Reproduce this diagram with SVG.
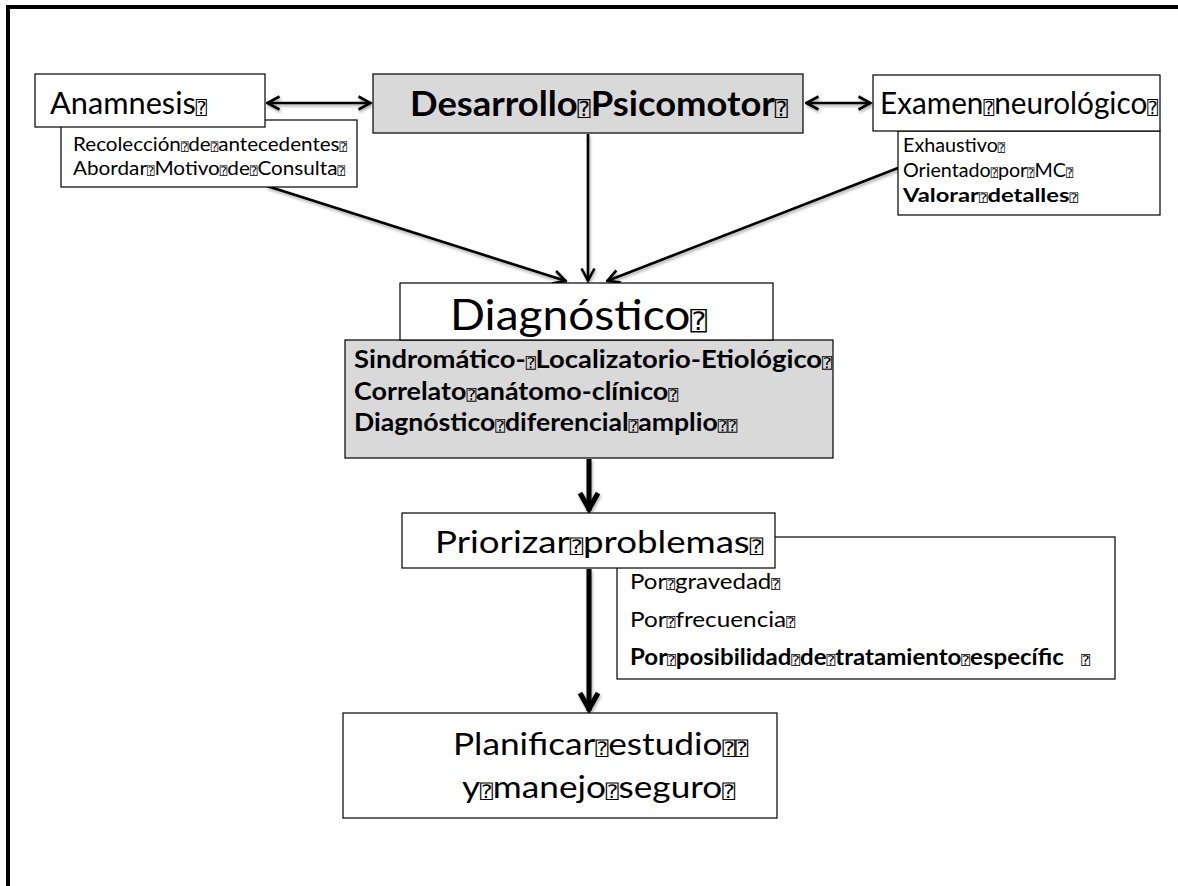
<svg xmlns="http://www.w3.org/2000/svg" width="1178" height="886" viewBox="0 0 1178 886">
<style>
.box{fill:#fff;stroke:#000;stroke-width:1.2}
.gray{fill:#d9d9d9;stroke:#000;stroke-width:1.2}
text{font-family:Lato,"Open Sans","Liberation Sans",sans-serif;fill:#000}
.b{font-weight:bold}
.q{font-family:"DejaVu Sans Mono","DejaVu Sans",monospace;font-size:0.6em;font-weight:normal}
.c{stroke:#000;fill:none;stroke-width:2.6}
.ct{stroke:#000;fill:none;stroke-width:5}
</style>
<defs>
<filter id="sh" x="-20%" y="-20%" width="140%" height="140%">
<feDropShadow dx="1" dy="2" stdDeviation="1.5" flood-color="#000" flood-opacity="0.35"/>
</filter>
<marker id="a" viewBox="0 0 16 16" refX="14.5" refY="8" markerWidth="16" markerHeight="16" markerUnits="userSpaceOnUse" orient="auto-start-reverse">
<path d="M2,1.5 L14,8 L2,14.5" fill="none" stroke="#000" stroke-width="2.6"/>
</marker>
<marker id="at" viewBox="0 0 24 24" refX="21" refY="12" markerWidth="24" markerHeight="24" markerUnits="userSpaceOnUse" orient="auto">
<path d="M3,3 L19,12 L3,21" fill="none" stroke="#000" stroke-width="5"/>
</marker>
</defs>
<rect width="1178" height="886" fill="#fff"/>
<path d="M8,886 V7 H1178" fill="none" stroke="#000" stroke-width="4"/>

<g id="connectors" filter="url(#sh)">
<line class="c" x1="267" y1="103" x2="371" y2="103" marker-start="url(#a)" marker-end="url(#a)"/>
<line class="c" x1="806" y1="103" x2="871" y2="103" marker-start="url(#a)" marker-end="url(#a)"/>
<line class="c" x1="267" y1="186" x2="566" y2="281" marker-end="url(#a)"/>
<line class="c" x1="588" y1="134" x2="588" y2="281" marker-end="url(#a)"/>
<line class="c" x1="898" y1="168" x2="607" y2="281" marker-end="url(#a)"/>
<line class="ct" x1="589" y1="459" x2="589" y2="511" marker-end="url(#at)"/>
<line class="ct" x1="589" y1="569" x2="589" y2="711" marker-end="url(#at)"/>
</g>

<g id="anamnesis">
<rect class="box" x="61" y="120" width="296" height="67"/>
<rect class="box" x="35" y="74" width="230" height="53"/>
<text x="50" y="114" font-size="30" textLength="157" lengthAdjust="spacingAndGlyphs">Anamnesis<tspan class="q">⍰</tspan></text>
<text x="73" y="151" font-size="19.5" textLength="274" lengthAdjust="spacingAndGlyphs">Recolección<tspan class="q">⍰</tspan>de<tspan class="q">⍰</tspan>antecedentes<tspan class="q">⍰</tspan></text>
<text x="73" y="175" font-size="19.5" textLength="272" lengthAdjust="spacingAndGlyphs">Abordar<tspan class="q">⍰</tspan>Motivo<tspan class="q">⍰</tspan>de<tspan class="q">⍰</tspan>Consulta<tspan class="q">⍰</tspan></text>
</g>

<g id="desarrollo">
<rect class="gray" x="373" y="74" width="430" height="59"/>
<text class="b" x="410" y="116" font-size="34" textLength="378" lengthAdjust="spacingAndGlyphs">Desarrollo<tspan class="q">⍰</tspan>Psicomotor<tspan class="q">⍰</tspan></text>
</g>

<g id="examen">
<rect class="box" x="898" y="131" width="262" height="84"/>
<rect class="box" x="873" y="75" width="287" height="56"/>
<text x="880" y="114" font-size="30" textLength="278" lengthAdjust="spacingAndGlyphs">Examen<tspan class="q">⍰</tspan>neurológico<tspan class="q">⍰</tspan></text>
<text x="903" y="152" font-size="19.5" textLength="102" lengthAdjust="spacingAndGlyphs">Exhaustivo<tspan class="q">⍰</tspan></text>
<text x="903" y="177" font-size="19.5" textLength="170" lengthAdjust="spacingAndGlyphs">Orientado<tspan class="q">⍰</tspan>por<tspan class="q">⍰</tspan>MC<tspan class="q">⍰</tspan></text>
<text class="b" x="903" y="202" font-size="19.5" textLength="175" lengthAdjust="spacingAndGlyphs">Valorar<tspan class="q">⍰</tspan>detalles<tspan class="q">⍰</tspan></text>
</g>

<g id="diagnostico">
<rect class="gray" x="345" y="340" width="488" height="118"/>
<rect class="box" x="400" y="283" width="373" height="57"/>
<text x="450" y="330" font-size="42" textLength="257" lengthAdjust="spacingAndGlyphs">Diagnóstico<tspan class="q">⍰</tspan></text>
<text class="b" x="354" y="368" font-size="24" textLength="478" lengthAdjust="spacingAndGlyphs">Sindromático-<tspan class="q">⍰</tspan>Localizatorio-Etiológico<tspan class="q">⍰</tspan></text>
<text class="b" x="354" y="400" font-size="24" textLength="324" lengthAdjust="spacingAndGlyphs">Correlato<tspan class="q">⍰</tspan>anátomo-clínico<tspan class="q">⍰</tspan></text>
<text class="b" x="354" y="431" font-size="24" textLength="383" lengthAdjust="spacingAndGlyphs">Diagnóstico<tspan class="q">⍰</tspan>diferencial<tspan class="q">⍰</tspan>amplio<tspan class="q">⍰⍰</tspan></text>
</g>

<g id="priorizar">
<rect class="box" x="617" y="537" width="498" height="142"/>
<rect class="box" x="402" y="513" width="373" height="55"/>
<text x="435" y="553" font-size="31" textLength="328" lengthAdjust="spacingAndGlyphs">Priorizar<tspan class="q">⍰</tspan>problemas<tspan class="q">⍰</tspan></text>
<text x="630" y="589" font-size="22" textLength="150" lengthAdjust="spacingAndGlyphs">Por<tspan class="q">⍰</tspan>gravedad<tspan class="q">⍰</tspan></text>
<text x="630" y="627" font-size="22" textLength="165" lengthAdjust="spacingAndGlyphs">Por<tspan class="q">⍰</tspan>frecuencia<tspan class="q">⍰</tspan></text>
<text class="b" x="630" y="665" font-size="22" textLength="460" lengthAdjust="spacingAndGlyphs">Por<tspan class="q">⍰</tspan>posibilidad<tspan class="q">⍰</tspan>de<tspan class="q">⍰</tspan>tratamiento<tspan class="q">⍰</tspan>específic&#160;&#160;&#160;<tspan class="q">⍰</tspan></text>
</g>

<g id="planificar">
<rect class="box" x="343" y="713" width="434" height="105"/>
<text x="453" y="755" font-size="31" textLength="295" lengthAdjust="spacingAndGlyphs">Planificar<tspan class="q">⍰</tspan>estudio<tspan class="q">⍰⍰</tspan></text>
<text x="462" y="798" font-size="31" textLength="273" lengthAdjust="spacingAndGlyphs">y<tspan class="q">⍰</tspan>manejo<tspan class="q">⍰</tspan>seguro<tspan class="q">⍰</tspan></text>
</g>
</svg>
